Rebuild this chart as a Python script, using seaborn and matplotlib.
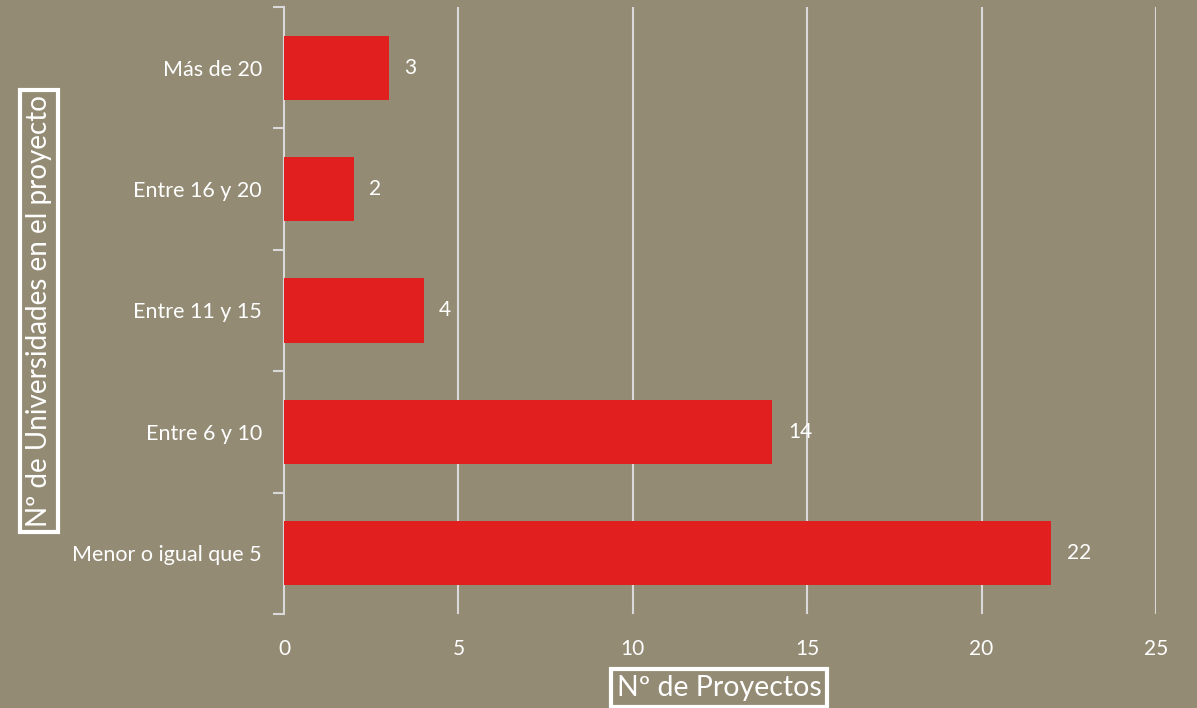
import numpy as np
import pandas as pd
import matplotlib
matplotlib.use("Agg")
import matplotlib.pyplot as plt
import seaborn as sns

# datos
categorias = ["Más de 20", "Entre 16 y 20", "Entre 11 y 15", "Entre 6 y 10", "Menor o igual que 5"]
proyectos = [3, 2, 4, 14, 22]
ticks_x = [0, 5, 10, 15, 20, 25]

fondo = "#938B74"
rojo = "#E11F1F"
rejilla = "#D9D9D9"

sns.set_theme(style="white")
plt.rcParams["font.family"] = ["Lato", "DejaVu Sans"]

df = pd.DataFrame({"categoria": categorias, "proyectos": proyectos})

fig = plt.figure(figsize=(11.97, 7.08), dpi=100, facecolor=fondo)
ax = fig.add_axes([284 / 1197, 1 - 614 / 708, (1156 - 284) / 1197, (614 - 7) / 708])
ax.set_facecolor(fondo)

sns.barplot(data=df, x="proyectos", y="categoria", order=categorias,
            color=rojo, saturation=1, width=0.53, linewidth=0, ax=ax, zorder=3)

ax.set_xlim(0, 25)
ax.set_ylim(4.5, -0.5)
ax.set_xticks(ticks_x)
ax.set_xticklabels([str(t) for t in ticks_x], color="white", fontsize=15)
ax.tick_params(axis="x", length=0, pad=18)
ax.tick_params(axis="y", which="major", left=False, length=0, pad=16,
               labelcolor="white", labelsize=15.5)
ax.set_yticks(np.arange(-0.5, 5, 1), minor=True)
ax.tick_params(axis="y", which="minor", left=True, length=8, width=1.5,
               color=rejilla, direction="out")

for t in ticks_x[1:]:
    ax.axvline(t, color=rejilla, lw=1.5, zorder=1)

for s in ["top", "right", "bottom"]:
    ax.spines[s].set_visible(False)
ax.spines["left"].set_color(rejilla)
ax.spines["left"].set_linewidth(1.5)

# etiquetas de datos
for i, v in enumerate(proyectos):
    ax.text(v + 0.45, i, str(v), color="white", fontsize=15, va="center", ha="left", zorder=4)

caja = dict(boxstyle="square,pad=0.2", facecolor="none", edgecolor="white", linewidth=3)
ax.set_xlabel("")
ax.set_ylabel("")
fig.text(719 / 1197, 1 - 688 / 708, "Nº de Proyectos", color="white", fontsize=20.5,
         ha="center", va="center", bbox=caja)
fig.text(39 / 1197, 1 - 311 / 708, "Nº de Universidades en el proyecto", color="white",
         fontsize=20, ha="center", va="center", rotation=90, bbox=caja)

fig.savefig("out.png", dpi=100, facecolor=fondo)
